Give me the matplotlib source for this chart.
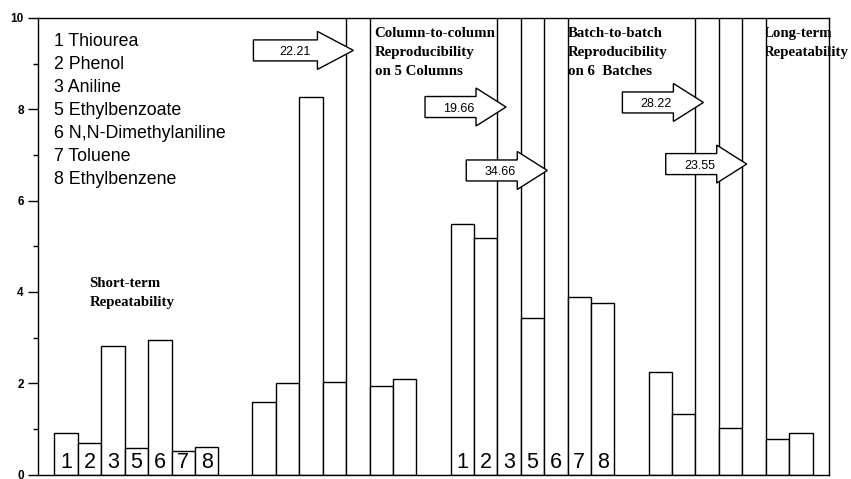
import matplotlib
matplotlib.use('Agg')
import matplotlib.pyplot as plt
from matplotlib.patches import Polygon
from matplotlib.transforms import ScaledTranslation
from matplotlib.ticker import MultipleLocator

plt.rcParams['font.family'] = ['Liberation Sans', 'DejaVu Sans']

# compounds, in bar order within each group
compound_ids = ['1', '2', '3', '5', '6', '7', '8']
compound_names = ['1 Thiourea', '2 Phenol', '3 Aniline', '5 Ethylbenzoate',
                  '6 N,N-Dimethylaniline', '7 Toluene', '8 Ethylbenzene']

# values per group (bars above 10 are cut by the axis)
short_term = [0.90, 0.68, 2.81, 0.57, 2.95, 0.52, 0.60]
column_to_column = [1.58, 2.01, 8.28, 2.02, 22.21, 1.93, 2.09]
batch_to_batch = [5.49, 5.19, 19.66, 3.43, 34.66, 3.89, 3.76]
long_term = [2.25, 1.33, 28.22, 1.01, 23.55, 0.77, 0.90]
groups = [short_term, column_to_column, batch_to_batch, long_term]

group_titles = ['Short-term\nRepeatability',
                'Column-to-column\nReproducibility\non 5 Columns',
                'Batch-to-batch\nReproducibility\non 6  Batches',
                'Long-term\nRepeatability']
title_pos = [(1.50, 4.32), (5.22, 9.80), (5.00, 9.80), (4.93, 9.80)]  # offset in group, top y

numbered_groups = [0, 2]  # groups with compound numbers in the bars

# off-scale values shown with block arrows: (group, bar, tip offset, arrow y, length in px)
arrow_group = [1, 2, 2, 3, 3]
arrow_bar = [4, 2, 4, 2, 4]
arrow_tip = [0.31, 0.37, 0.13, 0.34, 0.19]
arrow_y = [9.29, 8.05, 6.66, 8.15, 6.80]
arrow_len = [100, 81, 81, 81, 81]
arrow_head = [36, 30, 30, 30, 30]

group_step = 8.455

fig = plt.figure(figsize=(8.51, 4.79), dpi=100)
ax = fig.add_axes([38 / 851, 4.5 / 479, 791.3 / 851, 456.5 / 479])

for g, vals in enumerate(groups):
    xs = [g * group_step + i for i in range(len(vals))]
    ax.bar(xs, vals, width=1.0, align='edge', color='white',
           edgecolor='black', linewidth=1.0, zorder=2)
    if g in numbered_groups:
        for x, lab in zip(xs, compound_ids):
            ax.text(x + 0.5, 0.15, lab, ha='center', va='baseline',
                    fontsize=15.5, zorder=3)
    tx, ty = title_pos[g]
    ax.text(g * group_step + tx, ty, group_titles[g], ha='left',
            va='top', fontsize=10.7, fontweight='bold',
            family='Liberation Serif', linespacing=1.58, zorder=1)

# compound key
ax.text(0.0, 9.68, '\n'.join(compound_names), ha='left', va='top',
        fontsize=12.8, linespacing=1.47, zorder=3)

# block arrows for values off the scale
for g, b, off, y, L, H in zip(arrow_group, arrow_bar, arrow_tip, arrow_y,
                              arrow_len, arrow_head):
    val = groups[g][b]
    tip_x = g * group_step + b + off
    tr = fig.dpi_scale_trans + ScaledTranslation(tip_x, y, ax.transData)
    L, H = L / 100, H / 100
    hb, hh = 0.105, 0.19
    verts = [(-L, -hb), (-H, -hb), (-H, -hh), (0, 0), (-H, hh), (-H, hb), (-L, hb)]
    ax.add_patch(Polygon(verts, closed=True, facecolor='white',
                         edgecolor='black', linewidth=1.0, transform=tr,
                         zorder=4, clip_on=False))
    ax.text(-0.58 * L, 0, f'{val:.2f}', transform=tr, ha='center',
            va='center_baseline', fontsize=9, zorder=5)

ax.set_xlim(-0.70, 33.08)
ax.set_ylim(0, 10)
ax.set_xticks([])
ax.yaxis.set_major_locator(MultipleLocator(2))
ax.yaxis.set_minor_locator(MultipleLocator(1))
ax.tick_params(axis='y', which='major', length=7.2, width=1.0, pad=3,
               labelsize=8.5, direction='out')
ax.tick_params(axis='y', which='minor', length=3.6, width=1.0, direction='out')
for lab in ax.get_yticklabels():
    lab.set_fontweight('bold')
for sp in ax.spines.values():
    sp.set_linewidth(1.0)

fig.savefig('out.png', dpi=100)
